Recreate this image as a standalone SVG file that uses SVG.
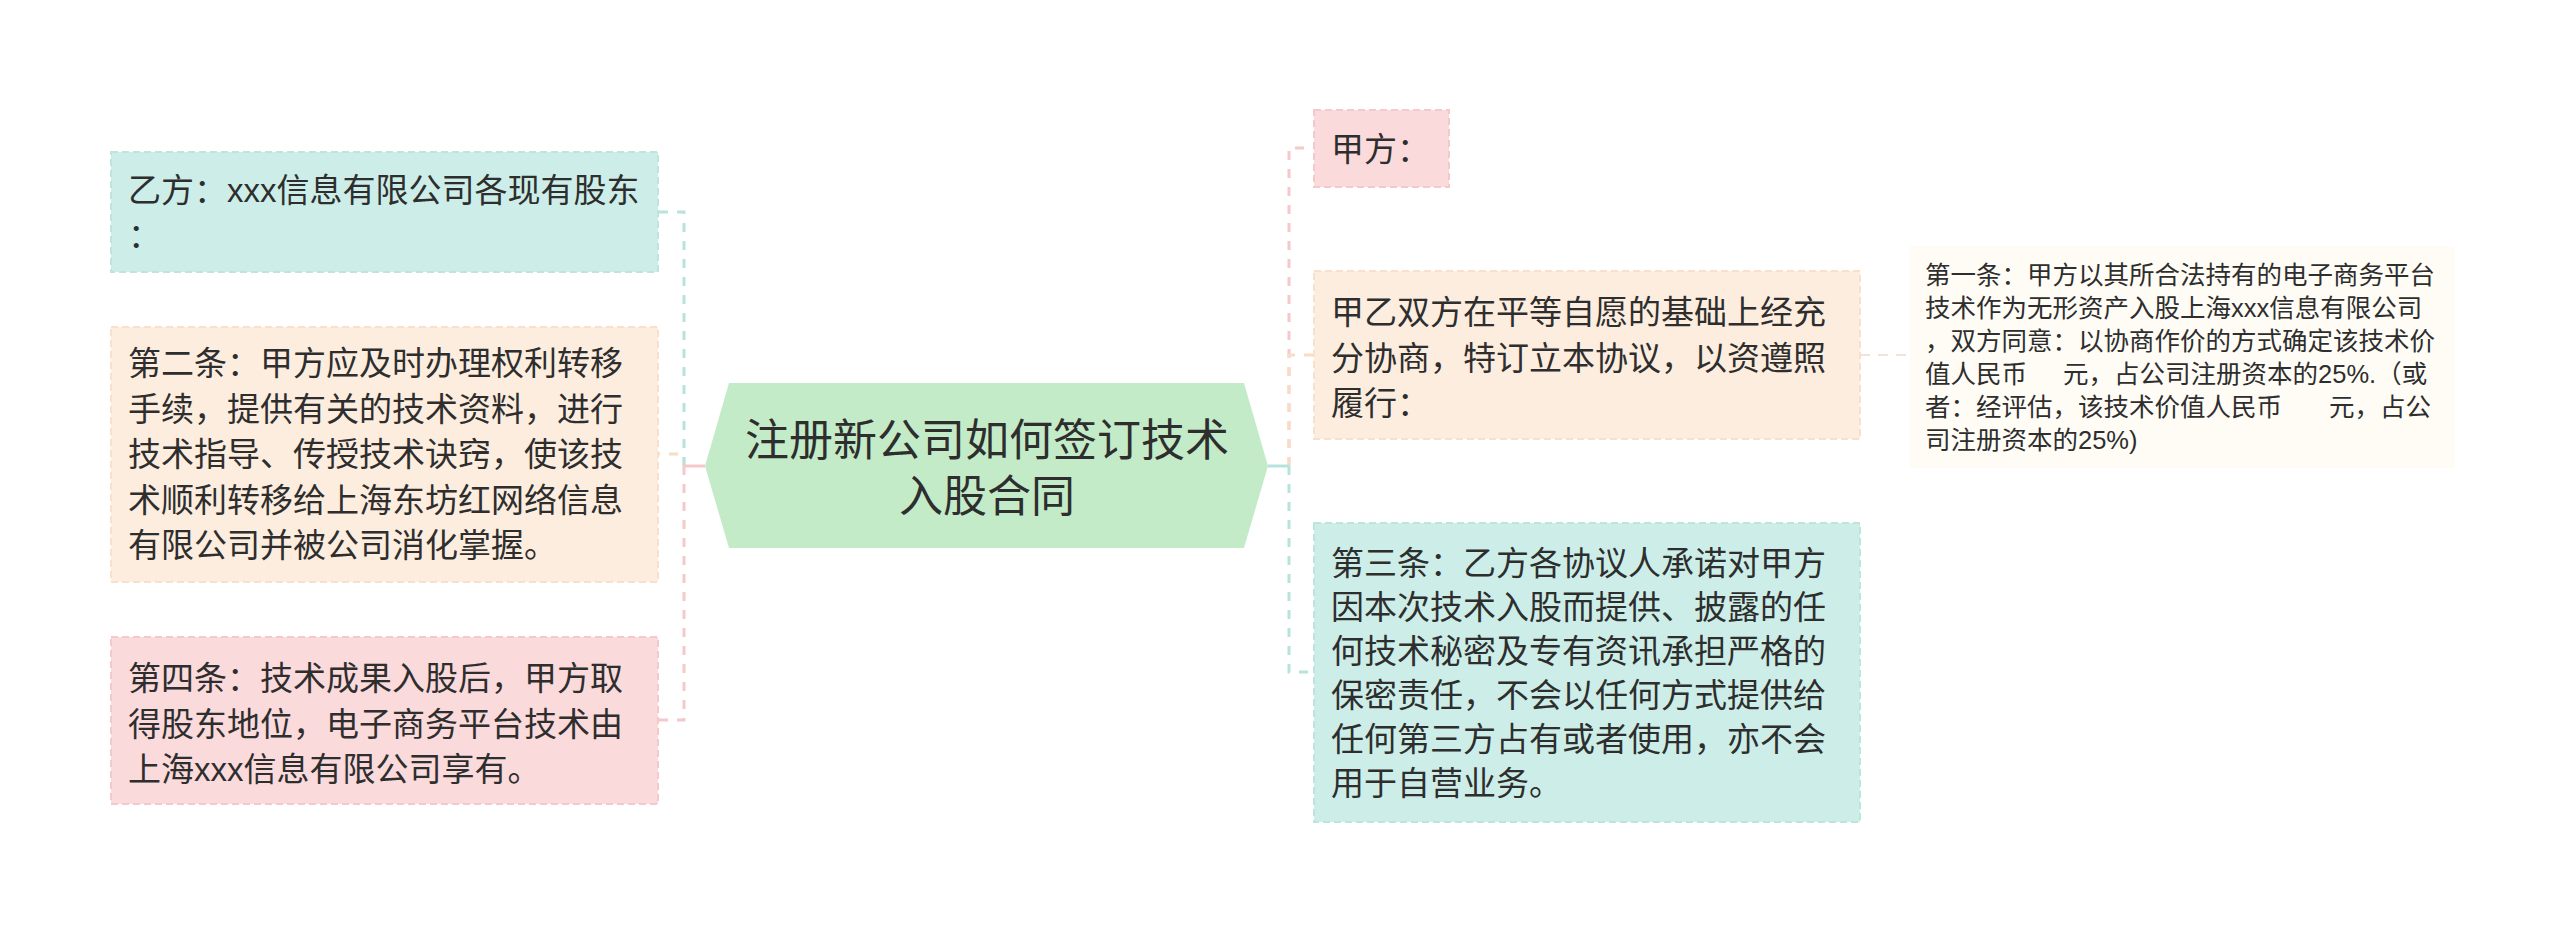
<svg xmlns="http://www.w3.org/2000/svg" width="2560" height="931" viewBox="0 0 2560 931">
<style>
text{font-family:"Liberation Sans","Noto Sans CJK SC",sans-serif;fill:#2e2e2e}
.t{font-size:33px}
.s{font-size:25.5px}
.r{font-size:44px;text-anchor:middle}
.box{stroke-width:2;stroke-dasharray:7 4}
.teal{fill:#cdeee8;stroke:#bde5de}
.peach{fill:#fdeddf;stroke:#f7e0cc}
.pink{fill:#fbdadc;stroke:#f4c9cc}
.c{fill:none;stroke-width:3;stroke-dasharray:9 9}
.cs{fill:none;stroke-width:3}
.ct{stroke:#b6e3dc}
.cp{stroke:#f9dcc6}
.ck{stroke:#f5c8cb}
</style>
<rect width="2560" height="931" fill="#ffffff"/>
<g id="connectors">
<path class="c cp" d="M684,466 V454 H658"/>
<path class="c ct" d="M684,466 V212 H658"/>
<path class="c ck" d="M684,466 V720 H658"/>
<line class="cs ck" x1="705" y1="466" x2="684" y2="466"/>
<path class="c ck" d="M1289,466 V148 H1314"/>
<path class="c cp" d="M1289,466 V355 H1314"/>
<path class="c ct" d="M1289,466 V672 H1314"/>
<line class="cs ct" x1="1268" y1="466" x2="1289" y2="466"/>
<line x1="1860" y1="355" x2="1910" y2="355" stroke="#efe5dc" stroke-width="2" stroke-dasharray="10 8"/>
</g>
<g id="root">
<polygon points="705,466 729,383 1244,383 1268,466 1244,548 729,548" fill="#c4ebc8"/>
<text class="r"><tspan x="987" y="456">注册新公司如何签订技术</tspan><tspan x="987" y="512">入股合同</tspan></text>
</g>
<g id="node-yifang">
<rect class="box teal" x="111" y="152" width="547" height="120"/>
<text class="t"><tspan x="128" y="202">乙方：xxx信息有限公司各现有股东</tspan><tspan x="128" y="247">：</tspan></text>
</g>
<g id="node-di2">
<rect class="box peach" x="111" y="327" width="547" height="255"/>
<text class="t"><tspan x="128" y="375">第二条：甲方应及时办理权利转移</tspan><tspan x="128" y="420.5">手续，提供有关的技术资料，进行</tspan><tspan x="128" y="466">技术指导、传授技术诀窍，使该技</tspan><tspan x="128" y="511.5">术顺利转移给上海东坊红网络信息</tspan><tspan x="128" y="557">有限公司并被公司消化掌握。</tspan></text>
</g>
<g id="node-di4">
<rect class="box pink" x="111" y="637" width="547" height="167"/>
<text class="t"><tspan x="128" y="690">第四条：技术成果入股后，甲方取</tspan><tspan x="128" y="735.5">得股东地位，电子商务平台技术由</tspan><tspan x="128" y="781">上海xxx信息有限公司享有。</tspan></text>
</g>
<g id="node-jiafang">
<rect class="box pink" x="1314" y="110" width="135" height="77"/>
<text class="t"><tspan x="1331" y="161">甲方：</tspan></text>
</g>
<g id="node-jiayi">
<rect class="box peach" x="1314" y="271" width="546" height="168"/>
<text class="t"><tspan x="1331" y="324">甲乙双方在平等自愿的基础上经充</tspan><tspan x="1331" y="369.5">分协商，特订立本协议，以资遵照</tspan><tspan x="1331" y="415">履行：</tspan></text>
</g>
<g id="node-di3">
<rect class="box teal" x="1314" y="523" width="546" height="299"/>
<text class="t"><tspan x="1331" y="575">第三条：乙方各协议人承诺对甲方</tspan><tspan x="1331" y="619">因本次技术入股而提供、披露的任</tspan><tspan x="1331" y="663">何技术秘密及专有资讯承担严格的</tspan><tspan x="1331" y="707">保密责任，不会以任何方式提供给</tspan><tspan x="1331" y="751">任何第三方占有或者使用，亦不会</tspan><tspan x="1331" y="795">用于自营业务。</tspan></text>
</g>
<g id="node-di1">
<rect x="1910" y="246" width="545" height="222" fill="#fffcf6"/>
<text class="s"><tspan x="1925" y="284">第一条：甲方以其所合法持有的电子商务平台</tspan><tspan x="1925" y="317">技术作为无形资产入股上海xxx信息有限公司</tspan><tspan x="1925" y="350">，双方同意：以协商作价的方式确定该技术价</tspan><tspan x="1925" y="383">值人民币</tspan><tspan dx="36">元，占公司注册资本的25%.（或</tspan><tspan x="1925" y="416">者：经评估，该技术价值人民币</tspan><tspan dx="47">元，占公</tspan><tspan x="1925" y="449">司注册资本的25%)</tspan></text>
</g>
</svg>
